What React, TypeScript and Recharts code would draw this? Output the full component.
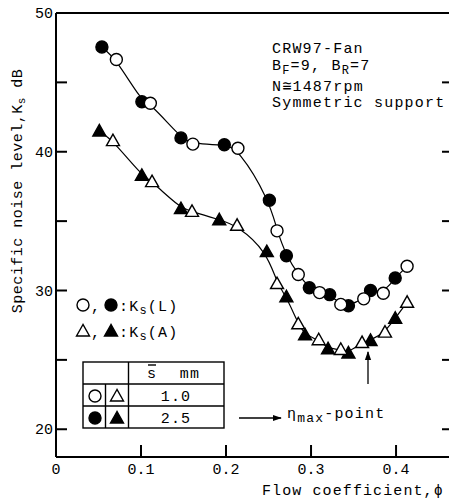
import React from "react"
import { ComposedChart, Line, Scatter, XAxis, YAxis } from "recharts"

// flow coefficient phi / specific noise level Ks (dB)
// Ks(L), s = 2.5 mm (filled circles)
const phiL25 = [0.054, 0.101, 0.147, 0.198, 0.251, 0.271, 0.298, 0.322, 0.344, 0.37, 0.399]
const ksL25 = [47.55, 43.6, 41.0, 40.5, 36.5, 32.5, 30.2, 29.7, 28.9, 30.0, 30.9]
// Ks(L), s = 1.0 mm (open circles)
const phiL10 = [0.071, 0.111, 0.161, 0.214, 0.26, 0.285, 0.31, 0.335, 0.362, 0.385, 0.413]
const ksL10 = [46.65, 43.5, 40.55, 40.25, 34.3, 31.15, 29.85, 29.0, 29.4, 29.8, 31.75]
// Ks(A), s = 2.5 mm (filled triangles)
const phiA25 = [0.051, 0.101, 0.147, 0.192, 0.248, 0.271, 0.293, 0.32, 0.344, 0.37, 0.399]
const ksA25 = [41.5, 38.3, 35.9, 35.1, 32.8, 29.55, 26.8, 25.8, 25.5, 26.4, 28.0]
// Ks(A), s = 1.0 mm (open triangles)
const phiA10 = [0.067, 0.113, 0.16, 0.213, 0.26, 0.285, 0.309, 0.335, 0.36, 0.387, 0.413]
const ksA10 = [40.8, 37.85, 35.7, 34.7, 30.5, 27.6, 26.45, 25.75, 26.25, 27.0, 29.15]

const xTicks = [0, 0.1, 0.2, 0.3, 0.4]
const yTicks = [20, 25, 30, 35, 40, 45, 50]
const yLabelled = [20, 30, 40, 50]

const mono = "'Liberation Mono', 'DejaVu Sans Mono', monospace"

const pts = (xs: number[], ys: number[]) => xs.map((x, i) => ({ x, y: ys[i] }))
const byX = (a: { x: number }, b: { x: number }) => a.x - b.x

const dL25 = pts(phiL25, ksL25)
const dL10 = pts(phiL10, ksL10)
const dA25 = pts(phiA25, ksA25)
const dA10 = pts(phiA10, ksA10)
const curveL = [...dL25, ...dL10].sort(byX)
const curveA = [...dA25, ...dA10].sort(byX)

function circle(cx: number, cy: number, filled: boolean) {
  return <circle cx={cx} cy={cy} r={6} fill={filled ? "#000" : "#fff"} stroke="#000" strokeWidth={1.4} />
}

function triangle(cx: number, cy: number, filled: boolean) {
  const p = `${cx},${cy - 6.5} ${cx - 6.5},${cy + 5} ${cx + 6.5},${cy + 5}`
  return <polygon points={p} fill={filled ? "#000" : "#fff"} stroke="#000" strokeWidth={1.4} strokeLinejoin="miter" />
}

const OpenCircle = (p: any) => circle(p.cx, p.cy, false)
const FullCircle = (p: any) => circle(p.cx, p.cy, true)
const OpenTri = (p: any) => triangle(p.cx, p.cy, false)
const FullTri = (p: any) => triangle(p.cx, p.cy, true)

function BottomTick({ x, y, payload }: any) {
  const v = payload.value
  return (
    <g>
      {v > 0 && <line x1={x} x2={x} y1={y} y2={y - 12} stroke="#000" strokeWidth={2} />}
      <text x={x} y={y + 17} textAnchor="middle" fontFamily={mono} fontSize={15} fill="#000">
        {v === 0 ? "0" : v.toFixed(1)}
      </text>
    </g>
  )
}

function TopTick({ x, y, payload }: any) {
  if (payload.value <= 0) return <g />
  return <line x1={x} x2={x} y1={y} y2={y + 12} stroke="#000" strokeWidth={2} />
}

function LeftTick({ x, y, payload }: any) {
  const v = payload.value
  return (
    <g>
      {v < 50 && <line x1={x} x2={x + 11} y1={y} y2={y} stroke="#000" strokeWidth={2} />}
      {yLabelled.includes(v) && (
        <text x={x - 3} y={y + 5} textAnchor="end" fontFamily={mono} fontSize={15} fill="#000">
          {v}
        </text>
      )}
    </g>
  )
}

function RightTick({ x, y, payload }: any) {
  if (payload.value >= 50) return <g />
  return <line x1={x} x2={x - 11} y1={y} y2={y} stroke="#000" strokeWidth={2} />
}

const axisLine = { stroke: "#000", strokeWidth: 2 }

function Overlay() {
  const t = { fontFamily: mono, fontSize: 15, fill: "#000", letterSpacing: 1.2 }
  return (
    <svg width={449} height={501} style={{ position: "absolute", left: 0, top: 0, pointerEvents: "none" }}>
      <defs>
        <marker id="ah" viewBox="0 0 10 10" refX="9" refY="5" markerWidth="7" markerHeight="7" orient="auto">
          <path d="M0,1.5 L10,5 L0,8.5 z" fill="#000" />
        </marker>
      </defs>

      {/* axis titles */}
      <text {...t} letterSpacing={0.5} x={22} y={191} textAnchor="middle" transform="rotate(-90 22 191)">
        Specific noise level,K<tspan fontSize={11} dy={3}>s</tspan>
        <tspan dy={-3}>{"  dB"}</tspan>
      </text>
      <text {...t} letterSpacing={1.1} x={262} y={495}>
        Flow coefficient,ϕ
      </text>

      {/* conditions */}
      <text {...t} x={272} y={53}>CRW97-Fan</text>
      <text {...t} x={272} y={70}>
        B<tspan fontSize={12} dy={4}>F</tspan>
        <tspan dy={-4}>=9, B</tspan>
        <tspan fontSize={12} dy={4}>R</tspan>
        <tspan dy={-4}>=7</tspan>
      </text>
      <text {...t} x={272} y={91}>N≅1487rpm</text>
      <text {...t} x={272} y={107}>Symmetric support</text>

      {/* marker key */}
      {circle(83, 305, false)}
      <text {...t} x={91} y={311}>,</text>
      {circle(111, 305, true)}
      <text {...t} x={119} y={311}>
        :K<tspan fontSize={12} dy={3}>s</tspan>
        <tspan dy={-3}>(L)</tspan>
      </text>
      {triangle(83, 331, false)}
      <text {...t} x={91} y={337}>,</text>
      {triangle(111, 331, true)}
      <text {...t} x={119} y={337}>
        :K<tspan fontSize={12} dy={3}>s</tspan>
        <tspan dy={-3}>(A)</tspan>
      </text>

      {/* clearance table */}
      <g stroke="#000" strokeWidth={1.4} fill="none">
        <rect x={83} y={362} width={141} height={66} />
        <line x1={83} x2={224} y1={384} y2={384} />
        <line x1={83} x2={224} y1={406} y2={406} />
        <line x1={105.5} x2={105.5} y1={384} y2={428} />
        <line x1={128.5} x2={128.5} y1={362} y2={428} />
        <line x1={148} x2={156} y1={365} y2={365} />
      </g>
      <text {...t} x={152} y={378} textAnchor="middle">s</text>
      <text {...t} x={190} y={378} textAnchor="middle">mm</text>
      {circle(95, 396, false)}
      {triangle(117, 396, false)}
      <text {...t} x={176} y={401} textAnchor="middle">1.0</text>
      {circle(95, 418, true)}
      {triangle(117, 418, true)}
      <text {...t} x={176} y={423} textAnchor="middle">2.5</text>

      {/* eta max point */}
      <line x1={239} x2={281} y1={418} y2={418} stroke="#000" strokeWidth={1.3} markerEnd="url(#ah)" />
      <text {...t} x={287} y={418}>
        η<tspan fontSize={13} dy={4}>max</tspan>
        <tspan dy={-4}>-point</tspan>
      </text>
      <line x1={368} x2={368} y1={384} y2={352} stroke="#000" strokeWidth={1.3} markerEnd="url(#ah)" />
    </svg>
  )
}

export default function App() {
  return (
    <div style={{ position: "absolute", left: 0, top: 0, width: 449, height: 501, overflow: "hidden", background: "#fff" }}>
      <ComposedChart width={460} height={501} margin={{ top: 0, right: 6, bottom: 0, left: 0 }}>
        <XAxis
          dataKey="x"
          type="number"
          domain={[0, 0.467]}
          allowDataOverflow
          ticks={xTicks}
          interval={0}
          height={44}
          tickSize={0}
          tickMargin={0}
          tickLine={false}
          axisLine={axisLine}
          tick={<BottomTick />}
        />
        <XAxis
          xAxisId="top"
          orientation="top"
          type="number"
          domain={[0, 0.467]}
          allowDataOverflow
          ticks={xTicks}
          interval={0}
          height={13}
          tickSize={0}
          tickMargin={0}
          tickLine={false}
          axisLine={axisLine}
          tick={<TopTick />}
        />
        <YAxis
          type="number"
          domain={[18, 50]}
          allowDataOverflow
          ticks={yTicks}
          interval={0}
          width={56}
          tickSize={0}
          tickMargin={0}
          tickLine={false}
          axisLine={axisLine}
          tick={<LeftTick />}
        />
        <YAxis
          yAxisId="r"
          orientation="right"
          type="number"
          domain={[18, 50]}
          allowDataOverflow
          ticks={yTicks}
          interval={0}
          width={1}
          tickSize={0}
          tickMargin={0}
          tickLine={false}
          axisLine={axisLine}
          tick={<RightTick />}
        />
        <Line data={curveL} dataKey="y" type="basis" stroke="#000" strokeWidth={1.2} dot={false} isAnimationActive={false} />
        <Line data={curveA} dataKey="y" type="basis" stroke="#000" strokeWidth={1.2} dot={false} isAnimationActive={false} />
        <Scatter data={dL25} dataKey="y" shape={FullCircle} isAnimationActive={false} />
        <Scatter data={dL10} dataKey="y" shape={OpenCircle} isAnimationActive={false} />
        <Scatter data={dA25} dataKey="y" shape={FullTri} isAnimationActive={false} />
        <Scatter data={dA10} dataKey="y" shape={OpenTri} isAnimationActive={false} />
      </ComposedChart>
      <Overlay />
    </div>
  )
}
